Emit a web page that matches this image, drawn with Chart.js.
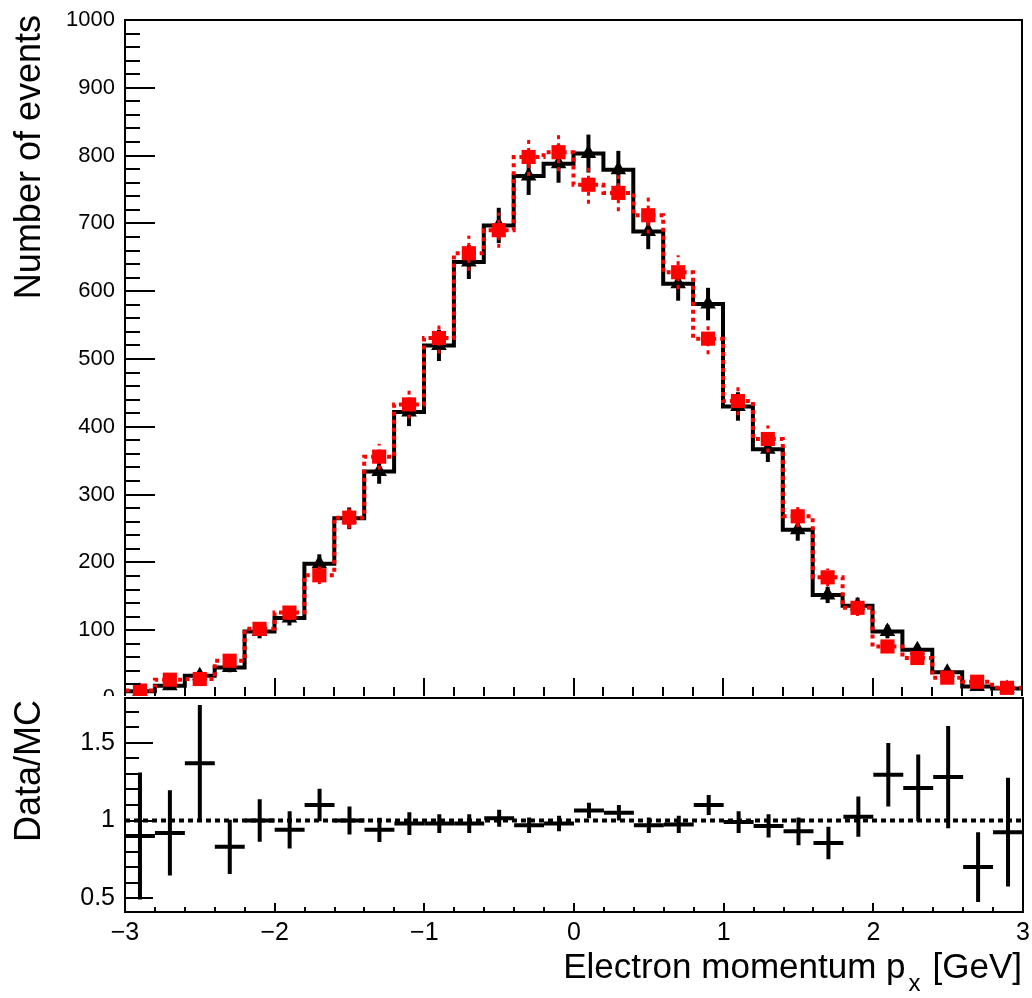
<!DOCTYPE html>
<html>
<head>
<meta charset="utf-8">
<script src="https://cdn.jsdelivr.net/npm/chart.js@4.4.1/dist/chart.umd.min.js"></script>
<style>
  body { margin: 0; background: #fff; }
  #wrap { position: relative; width: 1032px; height: 998px; background: #fff; overflow: hidden; }
  canvas { position: absolute; left: 0; }
  #mainCanvas { top: 0; }
  #ratioCanvas { top: 696px; background: #fff; }
  .title { position: absolute; font-family: "Liberation Sans", Arial, sans-serif; color: #000; white-space: nowrap; }
  .ytitle { font-size: 36px; line-height: 36px; width: 420px; text-align: right; transform: rotate(-90deg); transform-origin: top left; }
  .xtitle { font-size: 35px; line-height: 35px; left: 0; width: 1022px; text-align: right; top: 948px; }
  .xtitle span { font-size: 24px; position: relative; top: 13px; margin-left: 3px; margin-right: 12px; }
</style>
</head>
<body>
<div id="wrap">
  <canvas id="mainCanvas" width="1032" height="712"></canvas>
  <canvas id="ratioCanvas" width="1032" height="302"></canvas>
  <div class="title ytitle" style="left:10px; top:435px;">Number of events</div>
  <div class="title ytitle" style="left:10px; top:1120px;">Data/MC</div>
  <div class="title xtitle">Electron momentum p<span>x</span>[GeV]</div>
</div>
<script>
// bins of 0.2 GeV from -3 to 3
const binCenters = [-2.9, -2.7, -2.5, -2.3, -2.1, -1.9, -1.7, -1.5, -1.3, -1.1,
  -0.9, -0.7, -0.5, -0.3, -0.1, 0.1, 0.3, 0.5, 0.7, 0.9,
  1.1, 1.3, 1.5, 1.7, 1.9, 2.1, 2.3, 2.5, 2.7, 2.9];
const binHalfWidth = 0.1;

// data (black) and MC (red)
const dataCounts = [10, 18, 33, 45, 98, 118, 198, 265, 334, 422,
  520, 643, 697, 770, 788, 803, 779, 688, 611, 581,
  430, 367, 248, 152, 136, 98, 71, 38, 17, 14];
const dataErrors = [3, 4, 6, 7, 10, 11, 14, 16, 18, 21,
  23, 25, 26, 28, 28, 28, 28, 26, 25, 24,
  21, 19, 16, 12, 12, 10, 8, 6, 4, 4];
const mcCounts = [11, 27, 28, 55, 102, 126, 181, 266, 356, 433,
  531, 656, 690, 798, 805, 757, 745, 712, 628, 530,
  438, 382, 268, 178, 133, 76, 59, 30, 24, 15];
const mcErrors = [3, 5, 5, 7, 10, 11, 13, 16, 19, 21,
  23, 26, 26, 28, 28, 28, 27, 27, 25, 23,
  21, 20, 16, 13, 12, 9, 8, 5, 5, 4];

// ratio panel
const ratioValues = [0.90, 0.92, 1.37, 0.83, 1.00, 0.94, 1.10, 1.00, 0.94, 0.98,
  0.98, 0.98, 1.015, 0.97, 0.98, 1.065, 1.05, 0.97, 0.975, 1.10,
  0.99, 0.965, 0.93, 0.855, 1.025, 1.295, 1.21, 1.28, 0.70, 0.925];
const ratioErrors = [0.41, 0.275, 0.375, 0.175, 0.137, 0.12, 0.105, 0.09, 0.078, 0.073,
  0.06, 0.06, 0.055, 0.05, 0.05, 0.05, 0.05, 0.05, 0.055, 0.065,
  0.07, 0.075, 0.09, 0.105, 0.13, 0.205, 0.215, 0.33, 0.225, 0.35];

// tick labels
const mainYTicks = [0, 100, 200, 300, 400, 500, 600, 700, 800, 900, 1000];
const ratioYTicks = [0.5, 1, 1.5];
const xTicks = [-3, -2, -1, 0, 1, 2, 3];

const FONT = '"Liberation Sans", Arial, sans-serif';

// step outline: one point per left bin edge plus the last right edge
function stepPoints(values) {
  const pts = binCenters.map((c, i) => ({ x: c - binHalfWidth, y: values[i] }));
  pts.push({ x: binCenters[binCenters.length - 1] + binHalfWidth, y: values[values.length - 1] });
  return pts;
}
function markerPoints(values) {
  return binCenters.map((c, i) => ({ x: c, y: values[i] }));
}

// keep the frame where it is, labels may overflow like in ROOT
function noPadding(s) {
  s.paddingTop = 0; s.paddingBottom = 0; s.paddingLeft = 0; s.paddingRight = 0;
}

// error bars drawn right after their dataset
const errorBars = {
  id: 'errorBars',
  afterDatasetDraw(chart, args) {
    const ds = chart.data.datasets[args.index];
    const eb = ds.errorBars;
    if (!eb) return;
    const { ctx, chartArea: a } = chart;
    const xs = chart.scales.x, ys = chart.scales.y;
    ctx.save();
    ctx.beginPath();
    ctx.rect(a.left, a.top, a.right - a.left, a.bottom - a.top);
    ctx.clip();
    ctx.strokeStyle = eb.color;
    ctx.lineWidth = eb.width;
    ctx.setLineDash(eb.dash || []);
    ds.data.forEach((p, i) => {
      const px = xs.getPixelForValue(p.x);
      ctx.beginPath();
      ctx.moveTo(px, ys.getPixelForValue(p.y - eb.values[i]));
      ctx.lineTo(px, ys.getPixelForValue(p.y + eb.values[i]));
      if (eb.halfWidth) {
        const py = ys.getPixelForValue(p.y);
        ctx.moveTo(xs.getPixelForValue(p.x - eb.halfWidth), py);
        ctx.lineTo(xs.getPixelForValue(p.x + eb.halfWidth), py);
      }
      ctx.stroke();
    });
    ctx.restore();
  }
};

// ROOT style frame with ticks pointing inwards
const frameTicks = {
  id: 'frameTicks',
  afterDraw(chart, args, o) {
    const { ctx, chartArea: a } = chart;
    const xs = chart.scales.x, ys = chart.scales.y;
    const isMajor = (v, m) => Math.abs(v / m - Math.round(v / m)) < 1e-6;
    ctx.save();
    ctx.strokeStyle = '#000';
    ctx.lineWidth = 2;
    ctx.beginPath();
    for (let k = Math.ceil(ys.min / o.yMinor - 1e-6); k <= Math.floor(ys.max / o.yMinor + 1e-6); k++) {
      const v = k * o.yMinor;
      const py = Math.round(ys.getPixelForValue(v));
      ctx.moveTo(a.left, py);
      ctx.lineTo(a.left + (isMajor(v, o.yMajor) ? o.yMajorLen : o.yMinorLen), py);
    }
    for (let k = Math.ceil(xs.min / o.xMinor - 1e-6); k <= Math.floor(xs.max / o.xMinor + 1e-6); k++) {
      const v = k * o.xMinor;
      const px = Math.round(xs.getPixelForValue(v));
      ctx.moveTo(px, a.bottom);
      ctx.lineTo(px, a.bottom - (isMajor(v, o.xMajor) ? o.xMajorLen : o.xMinorLen));
    }
    ctx.stroke();
    ctx.strokeRect(a.left, a.top, a.right - a.left, a.bottom - a.top);
    ctx.restore();
  }
};

const minus = v => String(v).replace('-', '\u2212');

// main panel
new Chart(document.getElementById('mainCanvas'), {
  type: 'line',
  data: {
    datasets: [
      {
        // MC markers
        data: markerPoints(mcCounts),
        showLine: false,
        pointStyle: 'rect',
        pointRadius: 10,
        pointBackgroundColor: '#ff0000',
        pointBorderWidth: 0,
        order: 1,
        errorBars: { values: mcErrors, color: '#ff0000', width: 3, dash: [4, 4] }
      },
      {
        // MC histogram
        data: stepPoints(mcCounts),
        stepped: true,
        borderColor: '#ff0000',
        borderWidth: 4,
        borderDash: [4, 4],
        pointRadius: 0,
        fill: false,
        order: 2
      },
      {
        // data markers
        data: markerPoints(dataCounts),
        showLine: false,
        pointStyle: 'triangle',
        pointRadius: 9,
        pointBackgroundColor: '#000',
        pointBorderWidth: 0,
        order: 3,
        errorBars: { values: dataErrors, color: '#000', width: 4 }
      },
      {
        // data histogram
        data: stepPoints(dataCounts),
        stepped: true,
        borderColor: '#000',
        borderWidth: 4,
        pointRadius: 0,
        fill: false,
        order: 4
      }
    ]
  },
  options: {
    responsive: false,
    animation: false,
    events: [],
    layout: { padding: { top: 20, right: 9, bottom: 14, left: 0 } },
    scales: {
      x: { type: 'linear', min: -3, max: 3, display: false },
      y: {
        min: 0, max: 1000,
        afterBuildTicks: s => { s.ticks = mainYTicks.map(v => ({ value: v })); },
        afterFit: s => { s.width = 125; noPadding(s); },
        grid: { display: false, drawTicks: false },
        border: { display: false },
        ticks: { padding: 10, color: '#000', font: { family: FONT, size: 22 }, callback: v => String(v) }
      }
    },
    plugins: {
      legend: { display: false },
      tooltip: { enabled: false },
      frameTicks: { yMajor: 100, yMinor: 20, yMajorLen: 30, yMinorLen: 15, xMajor: 1, xMinor: 0.2, xMajorLen: 20, xMinorLen: 11 }
    }
  },
  plugins: [errorBars, frameTicks]
});

// ratio panel
new Chart(document.getElementById('ratioCanvas'), {
  type: 'line',
  data: {
    datasets: [
      {
        data: markerPoints(ratioValues),
        showLine: false,
        pointRadius: 0,
        order: 1,
        errorBars: { values: ratioErrors, color: '#000', width: 4, halfWidth: binHalfWidth }
      },
      {
        data: [{ x: -3, y: 1 }, { x: 3, y: 1 }],
        borderColor: '#000',
        borderWidth: 4,
        borderDash: [5, 4],
        pointRadius: 0,
        fill: false,
        order: 2
      }
    ]
  },
  options: {
    responsive: false,
    animation: false,
    events: [],
    layout: { padding: { top: 2, right: 9, bottom: 0, left: 0 } },
    scales: {
      x: {
        type: 'linear', min: -3, max: 3,
        afterBuildTicks: s => { s.ticks = xTicks.map(v => ({ value: v })); },
        afterFit: s => { s.height = 86; noPadding(s); },
        grid: { display: false, drawTicks: false },
        border: { display: false },
        ticks: { padding: 6, autoSkip: false, maxRotation: 0, color: '#000', font: { family: FONT, size: 25 }, callback: v => minus(v) }
      },
      y: {
        min: 0.41, max: 1.79,
        afterBuildTicks: s => { s.ticks = ratioYTicks.map(v => ({ value: v })); },
        afterFit: s => { s.width = 125; noPadding(s); },
        grid: { display: false, drawTicks: false },
        border: { display: false },
        ticks: { padding: 10, color: '#000', font: { family: FONT, size: 25 }, callback: v => String(v) }
      }
    },
    plugins: {
      legend: { display: false },
      tooltip: { enabled: false },
      frameTicks: { yMajor: 0.5, yMinor: 0.1, yMajorLen: 28, yMinorLen: 14, xMajor: 1, xMinor: 0.2, xMajorLen: 9, xMinorLen: 5 }
    }
  },
  plugins: [errorBars, frameTicks]
});
</script>
</body>
</html>
